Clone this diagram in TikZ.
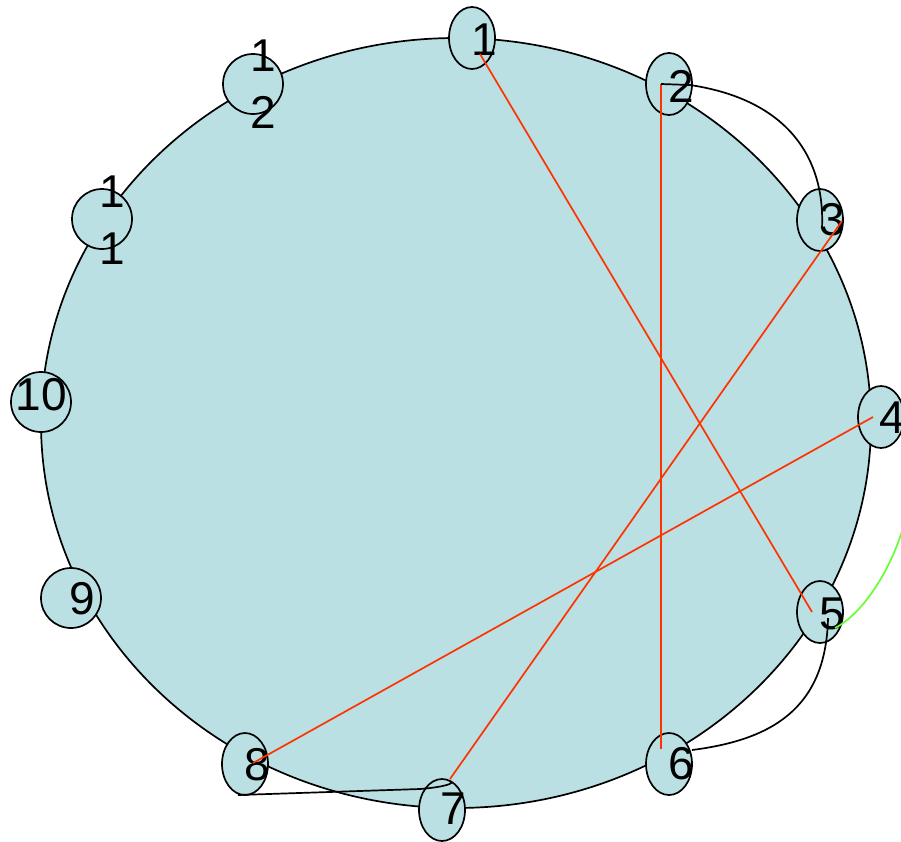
\documentclass[tikz,border=0pt]{standalone}
\usepackage{fontspec}
\setmainfont{Liberation Sans}
\usepackage{xcolor}
\usetikzlibrary{shapes.geometric,calc}

\definecolor{ringfill}{RGB}{187,224,227}
\definecolor{chordred}{RGB}{255,51,0}
\definecolor{chordgreen}{RGB}{102,255,51}

\begin{document}
\begin{tikzpicture}[
  x=1pt, y=-1pt,
  ring/.style={draw, line width=1.7pt, fill=ringfill},
  vtx/.style={ellipse, draw, line width=1.7pt, fill=ringfill, inner sep=0pt,
    minimum width=46pt, minimum height=62pt},
  rvtx/.style={circle, draw, line width=1.7pt, fill=ringfill, inner sep=0pt,
    minimum size=60pt},
  num/.style={anchor=east, inner sep=0pt, font=\fontsize{46}{57}\selectfont,
    text height=33pt, text depth=0pt},
  numtwo/.style={anchor=east, inner sep=0pt, align=right,
    font=\fontsize{46}{57}\selectfont},
  link/.style={line width=1.7pt, chordred},
  curvelink/.style={line width=1.7pt, black},
  altlink/.style={line width=1.7pt, chordgreen},
]
\path[use as bounding box, clip] (0,0) rectangle (901,841);

\draw[ring] (456,423) ellipse [x radius=415pt, y radius=385pt];

% vertices round the ring
\node[vtx] (n1) at (472,38) {};
\node[vtx] (n2) at (669,84) {};
\node[vtx] (n3) at (820,220) {};
\node[vtx] (n4) at (881,417) {};
\node[vtx] (n5) at (820,612) {};
\node[vtx] (n6) at (669,764) {};
\node[vtx] (n7) at (442,810) {};
\node[vtx] (n8) at (245,764) {};
\node[rvtx] (n9) at (71,598) {};
\node[rvtx] (n10) at (41,402) {};
\node[rvtx] (n11) at (102,219) {};
\node[rvtx] (n12) at (253,84) {};

% labels
\node[num] (l1) at ($(n1)+(25,1)$) {1};
\node[num] (l2) at ($(n2)+(25,2)$) {2};
\node[num] (l3) at ($(n3)+(25,-1)$) {3};
\node[num] (l4) at ($(n4)+(24,0)$) {4};
\node[num] (l5) at ($(n5)+(25,1)$) {5};
\node[num] (l6) at ($(n6)+(25,-1)$) {6};
\node[num] (l7) at ($(n7)+(24,-2)$) {7};
\node[num] (l8) at ($(n8)+(25,0)$) {8};
\node[num] (l9) at ($(n9)+(24,0)$) {9};
\node[num] (l10) at ($(n10)+(26,-8)$) {10};
\node[numtwo] (l11) at ($(n11)+(23,1)$) {1\\1};
\node[numtwo] (l12) at ($(n12)+(23,0)$) {1\\2};

% chords
\draw[link] ($(n1)+(8,16)$) -- ($(n5)+(-8,0)$);
\draw[link] ($(n2)+(-8,0)$) -- ($(n6)+(-8,-15)$);
\draw[link] ($(n3)+(22,1)$) -- ($(n7)+(8,-31)$);
\draw[link] ($(n4)+(-8,0)$) -- ($(n8)+(8,-1)$);

% curved links
\draw[curvelink] ($(n2)+(-8,0)$) -- ($(n2)+(21,1)$)
  .. controls (790,100) and (825,160) .. ($(n3)+(2,8)$);
\draw[curvelink] ($(n5)+(8,6)$) .. controls (826,710) and (770,740) .. ($(n6)+(23,-14)$);
\draw[curvelink] ($(n8)+(-7,31)$) -- (420,789)
  .. controls (445,787) and (455,783) .. ($(n7)+(8,-28)$);
\draw[altlink] ($(n5)+(15,16)$) .. controls (880,605) and (930,500) .. ($(n4)+(22,23)$);

\end{tikzpicture}
\end{document}
